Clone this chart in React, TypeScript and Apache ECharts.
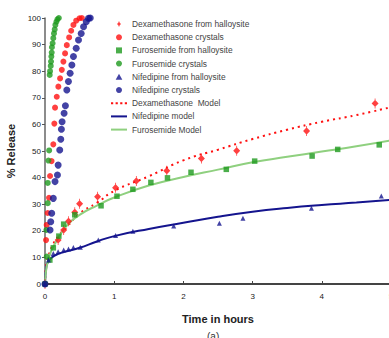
import React, { useEffect, useRef } from "react";
import * as echarts from "echarts";

// ---- data ----
const dexHalloysite: [number, number][] = [
  [0, 0], [0.19, 16.5], [0.27, 20.3], [0.34, 23.6], [0.43, 27], [0.5, 30.2], [0.76, 32.8],
  [1.02, 36.2], [1.32, 38.7], [1.76, 42.6], [2.26, 47.2], [2.77, 50.1], [3.78, 57.5], [4.77, 67.9],
];
const dexCrystals: [number, number][] = [
  [0, 0], [0.015, 16.5], [0.024, 22.2], [0.039, 26.7], [0.058, 32.4], [0.073, 40.6], [0.095, 46.2],
  [0.12, 52.5], [0.135, 60.3], [0.145, 66.3], [0.17, 70.4], [0.193, 74.2], [0.218, 77.3],
  [0.243, 80.5], [0.266, 83.6], [0.29, 86.7], [0.315, 89.8], [0.349, 92.7], [0.378, 95.2],
  [0.411, 97.4], [0.451, 99], [0.499, 99.9], [0.533, 100],
];
const furoHalloysite: [number, number][] = [
  [0, 0], [0.07, 9], [0.12, 13.6], [0.2, 18], [0.27, 22.5], [0.43, 26], [0.81, 29.4], [1.04, 33],
  [1.27, 35.6], [1.53, 38.2], [1.77, 39.9], [2.11, 42], [2.62, 43.1], [3.03, 46.2], [3.86, 48.1],
  [4.23, 50.6], [4.83, 52.3],
];
const furoCrystals: [number, number][] = [
  [0, 0], [0.025, 10.3], [0.02, 20.3], [0.04, 30.4], [0.04, 38], [0.05, 46.4], [0.06, 50.2],
  [0.068, 78.6], [0.073, 80], [0.083, 82], [0.087, 83.6], [0.092, 85.5], [0.097, 87], [0.1, 89],
  [0.11, 90.5], [0.12, 92.4], [0.13, 94.2], [0.14, 95.7], [0.15, 97.4], [0.165, 98.6],
  [0.18, 99.5], [0.2, 100],
];
const nifHalloysite: [number, number][] = [
  [0, 0], [0.05, 9], [0.12, 11.5], [0.19, 12.1], [0.27, 12.8], [0.34, 13.2], [0.41, 13.7],
  [0.51, 13.8], [0.77, 16.5], [1.02, 18.2], [1.27, 19.8], [1.86, 21.8], [2.52, 22.8],
  [2.86, 24.7], [3.85, 28.5], [4.86, 33.1],
];
const nifCrystals: [number, number][] = [
  [0, 0], [0.073, 20.3], [0.083, 23.4], [0.097, 26.6], [0.12, 32.2], [0.145, 38.5], [0.18, 41],
  [0.19, 44.7], [0.213, 50.4], [0.228, 54.4], [0.237, 58.2], [0.247, 61], [0.276, 64.2],
  [0.295, 67], [0.315, 72.9], [0.339, 76.1], [0.363, 79.2], [0.388, 82.3], [0.411, 85.5],
  [0.451, 88.6], [0.484, 91.7], [0.523, 94.2], [0.557, 96.7], [0.596, 98.6], [0.629, 99.9],
  [0.654, 100],
];
const modelTimes = [0, 0.02, 0.05, 0.1, 0.2, 0.3, 0.5, 0.75, 1, 1.5, 2, 2.5, 3, 3.5, 4, 4.5, 5];
const dexModel = [0, 7.5, 10.5, 14, 18.3, 21, 26.5, 30.5, 35, 40.5, 46.5, 50.5, 54.5, 58, 61, 63.5, 66.5];
const nifModel = [0, 6.5, 8.5, 10, 11.4, 12.2, 13.6, 16, 18, 20.7, 23, 25.3, 27.2, 28.6, 29.7, 30.6, 31.6];
const furoModel = [0, 6, 9, 13, 17.5, 21.5, 26, 29.5, 32.5, 37, 40.2, 43, 45.8, 47.8, 49.8, 51.8, 54];
const yTicks = { min: 0, max: 100, interval: 10 };
const xTicks = { min: 0, max: 5, interval: 1 };

const RED = "#ff1010";
const GREEN = "#1e9a1e";
const NAVY = "#14148e";
const LGREEN = "#8fd07f";
const FONT = "Liberation Sans, Arial, sans-serif";

const diamondBar = "path://M4.5,0H5.5V2.5L9.5,7L5.5,11.5V14H4.5V11.5L0.5,7L4.5,2.5Z";
const square = "path://M0,0H10V10H0Z";
const tri = "path://M5,0L10,9H0Z";
const dot = "path://M5,0A5,5,0,1,1,4.99,0Z";
const solidLine = "path://M0,0H16V2H0Z";
const dottedLine = "path://M0,0H2.2V2H0Z M4.6,0H6.8V2H4.6Z M9.2,0H11.4V2H9.2Z M13.8,0H16V2H13.8Z";

const zip = (xs: number[], ys: number[]) => xs.map((x, i) => [x, ys[i]]);

export default function App() {
  const ref = useRef<HTMLDivElement>(null);
  useEffect(() => {
    if (!ref.current) return;
    const chart = echarts.init(ref.current, undefined, { renderer: "svg" });
    chart.setOption({
      animation: false,
      backgroundColor: "#fff",
      textStyle: { fontFamily: FONT },
      grid: {
        left: 45,
        right: -2,
        top: 18,
        bottom: 54,
        containLabel: false,
        outerBoundsMode: "none",
      },
      legend: {
        orient: "vertical",
        left: 106,
        top: 15,
        itemWidth: 16,
        itemHeight: 6,
        itemGap: 5.2,
        symbolKeepAspect: true,
        textStyle: { fontSize: 8.4, color: "#444", fontFamily: FONT },
        data: [
          { name: "Dexamethasone from halloysite", icon: diamondBar },
          { name: "Dexamethasone crystals", icon: dot },
          { name: "Furosemide from halloysite", icon: square },
          { name: "Furosemide crystals", icon: dot },
          { name: "Nifedipine from halloysite", icon: tri },
          { name: "Nifedipine crystals", icon: dot },
          { name: "Dexamethasone  Model", icon: dottedLine },
          { name: "Nifedipine model", icon: solidLine },
          { name: "Furosemide Model", icon: solidLine },
        ],
      },
      xAxis: {
        type: "value",
        ...xTicks,
        name: "Time in hours",
        nameLocation: "middle",
        nameGap: 29,
        nameTextStyle: { fontSize: 11, fontWeight: "bold", color: "#222", fontFamily: FONT },
        axisLine: { show: true, lineStyle: { color: "#444", width: 2 } },
        axisTick: { show: true, inside: true, length: 3, lineStyle: { color: "#444" } },
        axisLabel: { fontSize: 8, color: "#222", margin: 8, fontFamily: FONT },
        splitLine: { show: false },
      },
      yAxis: {
        type: "value",
        ...yTicks,
        name: "% Release",
        nameLocation: "middle",
        nameGap: 24,
        nameTextStyle: { fontSize: 11, fontWeight: "bold", color: "#222", fontFamily: FONT },
        axisLine: { show: true, lineStyle: { color: "#666", width: 1.5 } },
        axisTick: { show: true, length: 3, lineStyle: { color: "#555" } },
        axisLabel: { fontSize: 8, color: "#222", margin: 4, fontFamily: FONT },
        splitLine: { show: false },
      },
      graphic: [
        {
          type: "text",
          left: 207,
          top: 331,
          style: { text: "(a)", fontSize: 10, fill: "#333", fontFamily: FONT },
        },
      ],
      series: [
        {
          name: "Dexamethasone  Model",
          type: "line",
          data: zip(modelTimes, dexModel),
          smooth: true,
          symbol: "none",
          lineStyle: { color: RED, width: 2, type: [2, 4] },
          itemStyle: { color: RED },
          z: 2,
        },
        {
          name: "Nifedipine model",
          type: "line",
          data: zip(modelTimes, nifModel),
          smooth: true,
          symbol: "none",
          lineStyle: { color: NAVY, width: 2 },
          itemStyle: { color: NAVY },
          z: 2,
        },
        {
          name: "Furosemide Model",
          type: "line",
          data: zip(modelTimes, furoModel),
          smooth: true,
          symbol: "none",
          lineStyle: { color: LGREEN, width: 2 },
          itemStyle: { color: LGREEN },
          z: 2,
        },
        {
          name: "Dexamethasone from halloysite",
          type: "scatter",
          data: dexHalloysite,
          symbol: diamondBar,
          symbolSize: [7, 10],
          itemStyle: { color: RED },
          z: 3,
        },
        {
          name: "Dexamethasone crystals",
          type: "scatter",
          data: dexCrystals,
          symbol: "circle",
          symbolSize: 6,
          itemStyle: { color: RED },
          z: 3,
        },
        {
          name: "Furosemide from halloysite",
          type: "scatter",
          data: furoHalloysite,
          symbol: "rect",
          symbolSize: 5.5,
          itemStyle: { color: GREEN },
          z: 3,
        },
        {
          name: "Furosemide crystals",
          type: "scatter",
          data: furoCrystals,
          symbol: "circle",
          symbolSize: 6,
          itemStyle: { color: GREEN },
          z: 3,
        },
        {
          name: "Nifedipine from halloysite",
          type: "scatter",
          data: nifHalloysite,
          symbol: "triangle",
          symbolSize: 5,
          itemStyle: { color: NAVY },
          z: 3,
        },
        {
          name: "Nifedipine crystals",
          type: "scatter",
          data: nifCrystals,
          symbol: "circle",
          symbolSize: 7,
          itemStyle: { color: NAVY },
          z: 3,
        },
      ],
    });
    return () => chart.dispose();
  }, []);
  return (
    <div
      ref={ref}
      style={{ position: "fixed", left: 0, top: 0, width: 389, height: 338 }}
    />
  );
}
